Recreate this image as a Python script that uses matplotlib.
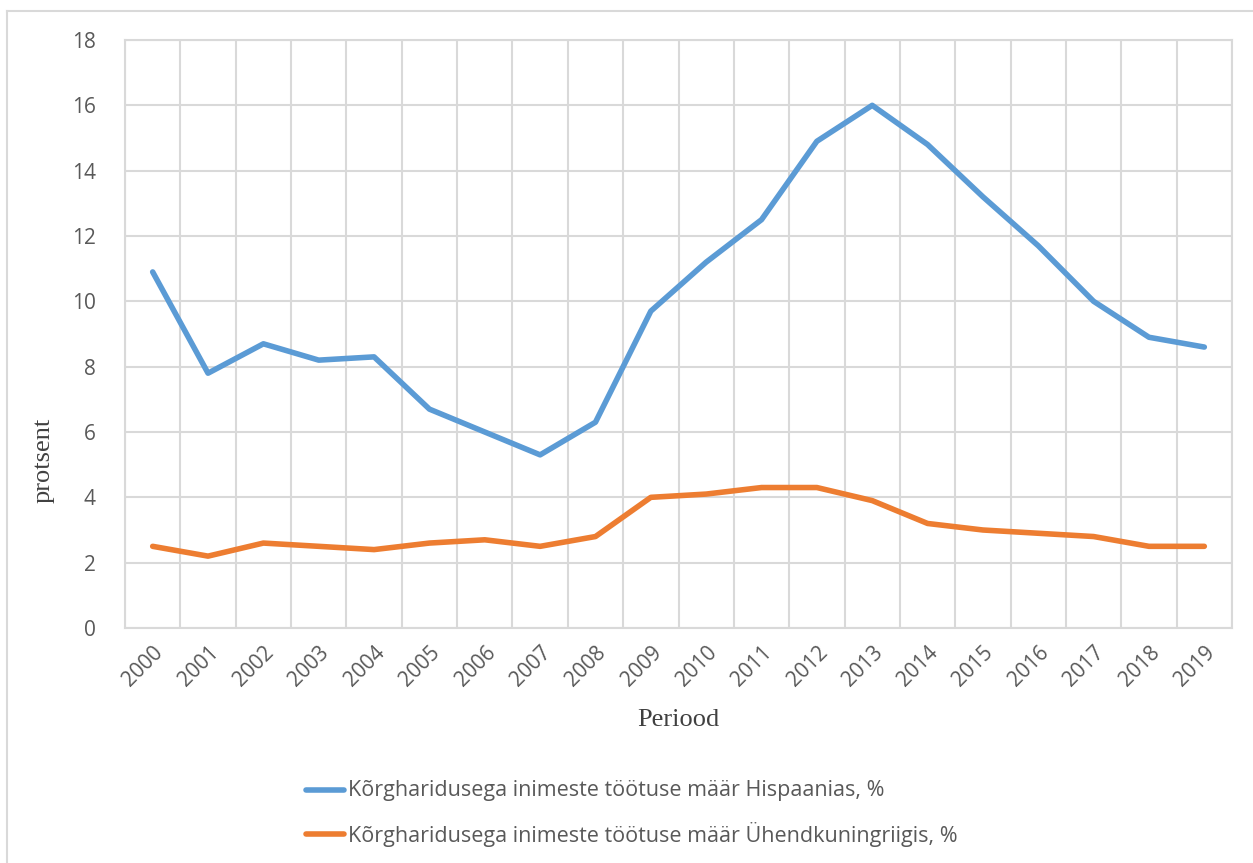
import matplotlib.pyplot as plt
from matplotlib.lines import Line2D

# Andmed
aastad = [str(a) for a in range(2000, 2020)]
hispaania = [10.9, 7.8, 8.7, 8.2, 8.3, 6.7, 6.0, 5.3, 6.3, 9.7,
             11.2, 12.5, 14.9, 16.0, 14.8, 13.2, 11.7, 10.0, 8.9, 8.6]
uk = [2.5, 2.2, 2.6, 2.5, 2.4, 2.6, 2.7, 2.5, 2.8, 4.0,
      4.1, 4.3, 4.3, 3.9, 3.2, 3.0, 2.9, 2.8, 2.5, 2.5]
nimed = ["Kõrgharidusega inimeste töötuse määr Hispaanias, %",
         "Kõrgharidusega inimeste töötuse määr Ühendkuningriigis, %"]
yticks = list(range(0, 19, 2))

sinine = "#5B9BD5"
oranz = "#ED7D31"
hall = "#D9D9D9"
tekst = "#595959"

W, H = 1253, 863
fig = plt.figure(figsize=(W / 100, H / 100), dpi=100)
ax = fig.add_axes([125 / W, (H - 628) / H, 1107 / W, 588 / H])

x = list(range(len(aastad)))
ax.plot(x, hispaania, color=sinine, lw=4, solid_capstyle="round", solid_joinstyle="round", zorder=3)
ax.plot(x, uk, color=oranz, lw=4, solid_capstyle="round", solid_joinstyle="round", zorder=3)

ax.set_xlim(-0.5, len(aastad) - 0.5)
ax.set_ylim(0, 18)
ax.set_yticks(yticks)
ax.set_xticks(x)
ax.set_xticks([i + 0.5 for i in range(-1, len(aastad))], minor=True)
ax.set_xticklabels(aastad, rotation=45, ha="right", rotation_mode="anchor",
                   fontsize=15, color=tekst, family="Open Sans")
for t in ax.get_yticklabels():
    t.set_fontsize(15)
    t.set_color(tekst)
    t.set_family("Open Sans")
ax.tick_params(axis="both", which="both", length=0)
ax.tick_params(axis="y", pad=21)
ax.tick_params(axis="x", pad=10)
ax.grid(axis="y", which="major", color=hall, lw=1.5)
ax.grid(axis="x", which="minor", color=hall, lw=1.5)
ax.set_axisbelow(True)
for s in ax.spines.values():
    s.set_color(hall)
    s.set_linewidth(1.5)

fig.text(44 / W, 1 - 460 / H, "protsent", rotation=90, ha="center", va="center",
         family="Liberation Serif", fontsize=19, color="#404040")
fig.text(678 / W, 1 - 720 / H, "Periood", ha="center", va="center",
         family="Liberation Serif", fontsize=19, color="#404040")

# Legend
for i, (nimi, c) in enumerate(zip(nimed, [sinine, oranz])):
    yy = 1 - (790 + 44 * i) / H
    fig.add_artist(Line2D([306 / W, 344 / W], [yy, yy], color=c, lw=4,
                          solid_capstyle="round"))
    fig.text(348 / W, yy, nimi, ha="left", va="center", fontsize=15.5,
             color=tekst, family="Open Sans")

# Välimine raam
fig.add_artist(Line2D([7 / W, 7 / W], [0, 1 - 11 / H], color=hall, lw=1.5))
fig.add_artist(Line2D([7 / W, 1], [1 - 11 / H, 1 - 11 / H], color=hall, lw=1.5))

fig.savefig("out.png", dpi=100)
